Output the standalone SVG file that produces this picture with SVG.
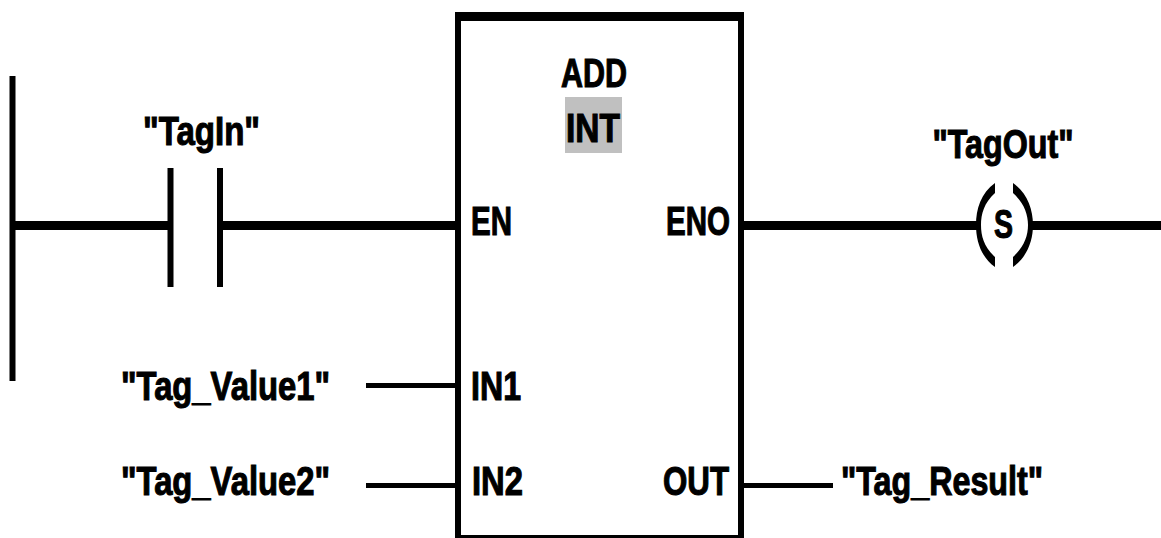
<svg xmlns="http://www.w3.org/2000/svg" width="1161" height="538" viewBox="0 0 1161 538">
<style>
text{font-family:"Liberation Sans",Arial,sans-serif;font-weight:700;font-size:40px;fill:#000;stroke:#000;stroke-width:1.1}
.w{stroke:#000;fill:none}
.t{stroke-width:9}.m{stroke-width:5}
</style>
<rect width="1161" height="538" fill="#fff"/>
<g id="connectors">
<path class="w" stroke-width="6" d="M12.500 76V381"/>
<path class="w t" d="M12 225.500H170M220 225.500H457M743 225.500H978M1030 225.500H1161"/>
<path class="w m" d="M366 385.500H457M366 485.500H457M743 485.500H833"/>
</g>
<g id="contact"><path class="w" stroke-width="6" d="M170.500 168V287M220 168V287"/><text x="143" y="145" textLength="117" lengthAdjust="spacingAndGlyphs">"TagIn"</text></g>
<g id="block">
<path fill="#fff" stroke="#000" stroke-width="6" d="M458 538V16H741V538"/>
<path class="w t" d="M455 16.500H744"/>
<path class="w" stroke-width="4" d="M455 537H744"/>
<rect x="565" y="97" width="57" height="56" fill="#c0c0c0"/>
<text x="594" y="87" text-anchor="middle" textLength="66" lengthAdjust="spacingAndGlyphs">ADD</text>
<text x="593" y="142" text-anchor="middle" textLength="54" lengthAdjust="spacingAndGlyphs">INT</text>
<text x="471" y="235" textLength="41" lengthAdjust="spacingAndGlyphs">EN</text>
<text x="666" y="235" textLength="64" lengthAdjust="spacingAndGlyphs">ENO</text>
<text x="471" y="400" textLength="50" lengthAdjust="spacingAndGlyphs">IN1</text>
<text x="472" y="495" textLength="51" lengthAdjust="spacingAndGlyphs">IN2</text>
<text x="663" y="495" textLength="66" lengthAdjust="spacingAndGlyphs">OUT</text>
</g>
<g id="coil">
<path fill="#000" d="M995 183V193C984 203 981 214 981 225C981 236 984 247 995 257V267C981 257 976 241 976 225C976 209 981 193 995 183Z"/>
<path fill="#000" d="M1013 183V193C1024 203 1028 214 1028 225C1028 236 1024 247 1013 257V267C1027 257 1033 241 1033 225C1033 209 1027 193 1013 183Z"/>
<text x="1003.500" y="238" text-anchor="middle" textLength="19" lengthAdjust="spacingAndGlyphs">S</text>
<text x="1003" y="158" text-anchor="middle" textLength="141" lengthAdjust="spacingAndGlyphs">"TagOut"</text>
</g>
<g id="tag-value1"><text x="121" y="400" textLength="209" lengthAdjust="spacingAndGlyphs">"Tag_Value1"</text></g>
<g id="tag-value2"><text x="121" y="495" textLength="209" lengthAdjust="spacingAndGlyphs">"Tag_Value2"</text></g>
<g id="tag-result"><text x="841" y="495" textLength="202" lengthAdjust="spacingAndGlyphs">"Tag_Result"</text></g>
</svg>
